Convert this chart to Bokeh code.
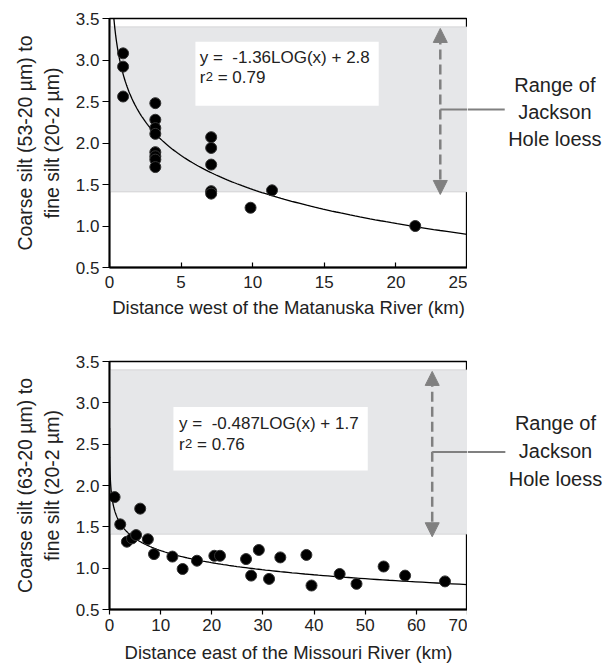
import numpy as np
from bokeh.plotting import figure
from bokeh.layouts import column, row
from bokeh.models import BoxAnnotation, Label, Arrow, NormalHead, FixedTicker, ColumnDataSource
from bokeh.embed import file_html
from bokeh.resources import INLINE

# ---- data: top panel (Matanuska) ----
top_x = [0.95, 0.95, 0.95, 3.2, 3.2, 3.2, 3.2, 3.2, 3.2, 3.2, 3.2,
         7.1, 7.1, 7.1, 7.1, 7.1, 11.35, 9.85, 21.35]
top_y = [3.08, 2.92, 2.56, 2.48, 2.28, 2.18, 2.11, 1.89, 1.84, 1.80, 1.71,
         2.07, 1.94, 1.74, 1.42, 1.39, 1.43, 1.22, 1.00]
top_fit = [-1.36, 2.8]   # y = a*LOG(x) + b
top_eq = ["y =\u00a0\u00a0-1.36LOG(x) + 2.8", "r", "2", "= 0.79"]
top_xticks = [0, 5, 10, 15, 20, 25]

# ---- data: bottom panel (Missouri) ----
bot_x = [1.0, 2.1, 3.4, 4.4, 5.2, 6.0, 7.5, 8.7, 12.3, 14.3, 17.1, 20.5, 21.6,
         26.7, 27.7, 29.2, 31.2, 33.4, 38.5, 39.5, 45.0, 48.3, 53.6, 57.8, 65.6]
bot_y = [1.86, 1.53, 1.32, 1.36, 1.40, 1.72, 1.35, 1.17, 1.14, 0.99, 1.09, 1.15, 1.15,
         1.11, 0.91, 1.22, 0.87, 1.13, 1.16, 0.79, 0.93, 0.81, 1.02, 0.91, 0.84]
bot_fit = [-0.487, 1.7]
bot_eq = ["y =\u00a0\u00a0-0.487LOG(x) + 1.7", "r", "2", "= 0.76"]
bot_xticks = [0, 10, 20, 30, 40, 50, 60, 70]

yticks = [0.5, 1.0, 1.5, 2.0, 2.5, 3.0, 3.5]
jackson_range = [1.41, 3.40]
range_text = ["Range of", "Jackson", "Hole loess"]

FONT = "Liberation Sans"
GREY = "#808080"
TXT = "#222222"
AXW = 358      # width of the axes box in px
SIDEW = 140    # width of the side annotation strip


def make_panel(xs, ys, fit, eq, xticks, xmax, ylabel, xlabel, eq_box, eq_pos,
               arrow_x, line_end_x, text_x, text_ys, height, border_top, frame_h,
               ticks_in, xlab_standoff):
    border_bottom = height - border_top - frame_h
    p = figure(frame_width=AXW, frame_height=frame_h, height=height,
               x_range=(0, xmax), y_range=(0.5, 3.5),
               output_backend="svg", toolbar_location=None,
               min_border_left=109, min_border_right=0,
               min_border_top=border_top, min_border_bottom=border_bottom)
    p.xgrid.visible = False
    p.ygrid.visible = False
    p.outline_line_color = "black"
    p.outline_line_width = 1.3
    p.outline_line_alpha = 1
    p.background_fill_color = "white"
    p.border_fill_color = "white"

    # band
    p.add_layout(BoxAnnotation(bottom=jackson_range[0], top=jackson_range[1],
                               fill_color="#e6e7e9", fill_alpha=1,
                               line_color="#9a9a9a", line_width=1, level="underlay"))
    # equation box
    p.add_layout(BoxAnnotation(left=eq_box[0], right=eq_box[1], bottom=eq_box[2], top=eq_box[3],
                               fill_color="white", fill_alpha=1, line_alpha=0, level="underlay"))
    p.add_layout(Label(x=eq_pos[0], y=eq_pos[1], text=eq[0], text_font=FONT,
                       text_font_size="17px", text_color=TXT))
    p.add_layout(Label(x=eq_pos[0], y=eq_pos[2], text=eq[1], text_font=FONT,
                       text_font_size="17px", text_color=TXT))
    p.add_layout(Label(x=eq_pos[0], y=eq_pos[2], text=eq[2], text_font=FONT, x_offset=6,
                       y_offset=6, text_font_size="13px", text_color=TXT))
    p.add_layout(Label(x=eq_pos[0], y=eq_pos[2], text=eq[3], text_font=FONT, x_offset=18,
                       text_font_size="17px", text_color=TXT))

    # fit curve
    cx = np.geomspace(0.009, xmax, 400)
    cy = fit[0] * np.log10(cx) + fit[1]
    p.line(cx, cy, line_color="black", line_width=1.3)

    # points
    src = ColumnDataSource(dict(x=xs, y=ys))
    p.scatter("x", "y", source=src, size=11, fill_color="black", line_color="#333333",
              line_width=1)

    # arrow + connector (part inside the axes box)
    mid = (jackson_range[0] + jackson_range[1]) / 2
    p.add_layout(Arrow(x_start=arrow_x, y_start=mid, x_end=line_end_x, y_end=mid,
                       end=None, line_color=GREY, line_width=2))
    p.add_layout(Arrow(x_start=arrow_x, y_start=jackson_range[0] - 0.03,
                       x_end=arrow_x, y_end=jackson_range[1] - 0.02,
                       start=NormalHead(size=14, fill_color=GREY, line_color=GREY),
                       end=NormalHead(size=14, fill_color=GREY, line_color=GREY),
                       line_color=GREY, line_width=2.5, line_dash="10 5"))

    # axes
    p.xaxis.ticker = FixedTicker(ticks=xticks)
    p.yaxis.ticker = FixedTicker(ticks=yticks)
    p.yaxis.major_label_overrides = {v: f"{v:.1f}" for v in yticks}
    for ax in (p.xaxis[0], p.yaxis[0]):
        ax.axis_line_color = "black"
        ax.axis_line_width = 2
        ax.major_tick_line_color = "black"
        ax.major_tick_line_width = 1.2
        ax.minor_tick_line_color = None
        ax.major_label_text_font = FONT
        ax.major_label_text_font_size = "17px"
        ax.major_label_text_color = TXT
        ax.axis_label_text_font = FONT
        ax.axis_label_text_font_size = "18.5px"
        ax.axis_label_text_font_style = "normal"
        ax.axis_label_text_color = TXT
    p.yaxis.major_tick_out = 7
    p.yaxis.major_tick_in = 0
    if ticks_in:
        p.xaxis.major_tick_out = 0
        p.xaxis.major_tick_in = 5
        p.xaxis.major_label_standoff = 8
    else:
        p.xaxis.major_tick_out = 5
        p.xaxis.major_tick_in = 0
        p.xaxis.major_label_standoff = 4
    p.yaxis.major_label_standoff = 3
    p.yaxis.axis_label = ylabel
    p.yaxis.axis_label_text_font_size = "19.5px"
    p.yaxis.axis_label_standoff = 10
    p.xaxis.axis_label = xlabel
    p.xaxis.axis_label_standoff = xlab_standoff

    # side strip to the right of the axes box, same data scale
    sx_max = xmax + SIDEW * xmax / AXW
    s = figure(frame_width=SIDEW, frame_height=frame_h, height=height,
               x_range=(xmax, sx_max), y_range=(0.5, 3.5),
               output_backend="svg", toolbar_location=None,
               min_border_left=0, min_border_right=0,
               min_border_top=border_top, min_border_bottom=border_bottom)
    s.axis.visible = False
    s.xgrid.visible = False
    s.ygrid.visible = False
    s.outline_line_color = None
    s.background_fill_color = "white"
    s.border_fill_color = "white"
    s.add_layout(Arrow(x_start=xmax, y_start=mid, x_end=line_end_x, y_end=mid,
                       end=None, line_color=GREY, line_width=2))
    for t, ty in zip(range_text, text_ys):
        s.add_layout(Label(x=text_x, y=ty, text=t, text_align="center", text_font=FONT,
                           text_font_size="20px", text_color=TXT))
    return row(p, s, spacing=0)


p1 = make_panel(top_x, top_y, top_fit, top_eq, top_xticks, 25,
                "Coarse silt (53-20 \u00b5m) to\nfine silt (20-2 \u00b5m)",
                "Distance west of the Matanuska River (km)",
                eq_box=(6.0, 18.8, 2.45, 3.22), eq_pos=(6.3, 2.92, 2.68),
                arrow_x=23.1, line_end_x=27.6, text_x=31.1, text_ys=[2.57, 2.245, 1.92],
                height=325, border_top=18, frame_h=249, ticks_in=True, xlab_standoff=6)

p2 = make_panel(bot_x, bot_y, bot_fit, bot_eq, bot_xticks, 70,
                "Coarse silt (63-20 \u00b5m) to\nfine silt (20-2 \u00b5m)",
                "Distance east of the Missouri River (km)",
                eq_box=(12.5, 50.5, 2.18, 2.95), eq_pos=(13.6, 2.64, 2.38),
                arrow_x=63.1, line_end_x=77.4, text_x=87.2, text_ys=[2.62, 2.28, 1.95],
                height=335, border_top=36, frame_h=248, ticks_in=False, xlab_standoff=8)

layout = column(p1, p2, spacing=0)
open("out.html", "w").write(file_html(layout, INLINE))
